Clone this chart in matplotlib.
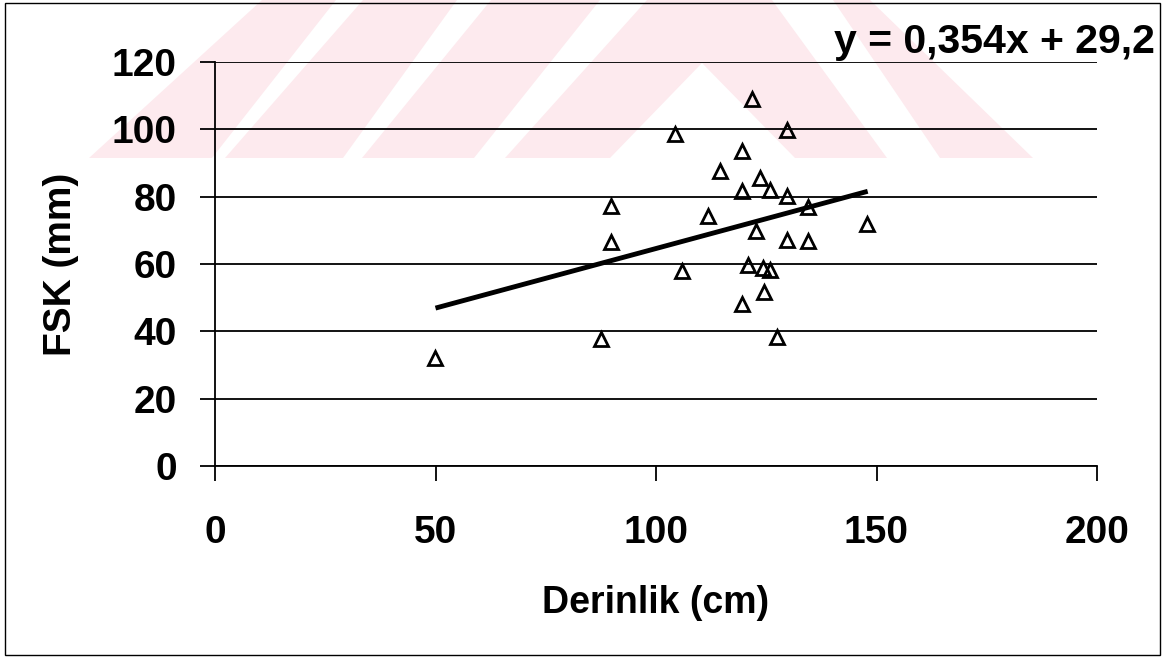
import matplotlib
matplotlib.use("Agg")
import matplotlib.pyplot as plt
from matplotlib.patches import Polygon, Rectangle

# depth (cm) vs FSK (mm)
derinlik = [121.7, 104.4, 129.6, 119.4, 114.6, 123.6, 119.4, 125.8, 129.6, 89.9,
            134.5, 111.8, 147.9, 122.6, 89.9, 129.6, 134.5, 105.9, 120.8, 124.3,
            125.8, 124.5, 119.4, 87.6, 127.5, 49.9]
fsk = [109.1, 98.7, 99.7, 93.6, 87.5, 85.6, 81.7, 81.9, 80.2, 77.2,
       76.8, 74.2, 71.8, 69.8, 66.6, 67.1, 66.9, 57.9, 59.6, 58.7,
       58.2, 51.7, 48.1, 37.7, 38.2, 32.0]

# trend line as printed on the chart
slope = 0.354
intercept = 29.2
trend_x = [50, 148]
trend_y = [slope * v + intercept for v in trend_x]
equation = "y = 0,354x + 29,2"

x_ticks = [0, 50, 100, 150, 200]
y_ticks = [0, 20, 40, 60, 80, 100, 120]

W, H = 1166, 657
plt.rcParams["font.family"] = ["Liberation Sans", "DejaVu Sans"]

fig = plt.figure(figsize=(W / 100, H / 100), dpi=100)
fig.patch.set_facecolor("white")

# faint pink watermark band at the top (pixel coords, y from top)
pink = "#fdeaee"
shapes = [
    [(89, 158), (212, 158), (336, 0), (262, 0)],
    [(225, 158), (343, 158), (457, 0), (363, 0)],
    [(362, 158), (474, 158), (600, 0), (491, 0)],
    [(505, 158), (610, 158), (702, 63), (795, 158), (887, 158), (772, 0), (647, 0)],
    [(940, 158), (1033, 158), (870, 0), (833, 0)],
]
for s in shapes:
    pts = [(px / W, 1 - py / H) for px, py in s]
    fig.patches.append(Polygon(pts, closed=True, transform=fig.transFigure,
                               facecolor=pink, edgecolor="none", zorder=-5))

# thin frame around the whole chart
fig.patches.append(Rectangle((5 / W, 1 - 655 / H), 1155 / W, 652 / H,
                             transform=fig.transFigure, fill=False,
                             edgecolor="black", linewidth=1.0, zorder=-4))

ax = fig.add_axes([215 / W, 1 - 466 / H, 882 / W, 404 / H])
ax.set_facecolor("none")

ax.plot(trend_x, trend_y, color="black", linewidth=3.5, solid_capstyle="butt", zorder=3)
ax.plot(derinlik, fsk, linestyle="none", marker="^", markersize=10,
        markerfacecolor="none", markeredgecolor="black", markeredgewidth=2.0, zorder=4)

ax.set_xlim(0, 200)
ax.set_ylim(0, 120)
ax.set_xticks(x_ticks)
ax.set_yticks(y_ticks)
ax.yaxis.grid(True, color="black", linewidth=1.3)
ax.set_axisbelow(True)

for side in ["top", "right"]:
    ax.spines[side].set_visible(False)
for side in ["left", "bottom"]:
    ax.spines[side].set_linewidth(1.3)

ax.tick_params(axis="both", direction="out", length=10.5, width=1.3, labelsize=28)
ax.tick_params(axis="x", pad=25)
ax.tick_params(axis="y", pad=17)
for lab in ax.get_xticklabels() + ax.get_yticklabels():
    lab.set_fontweight("bold")

ax.set_xlabel("Derinlik (cm)", fontsize=27, fontweight="bold")
ax.xaxis.label.set_va("center")
ax.xaxis.set_label_coords(0.5, -0.339)
ax.set_ylabel("FSK (mm)", fontsize=28, fontweight="bold")
ax.yaxis.label.set_va("center")
ax.yaxis.set_label_coords(-0.1746, 0.5)

ax.text(1.066, 1.05, equation, transform=ax.transAxes, ha="right", va="center",
        fontsize=29.5, fontweight="bold", clip_on=False)

fig.savefig("out.png", dpi=100, facecolor="white")
